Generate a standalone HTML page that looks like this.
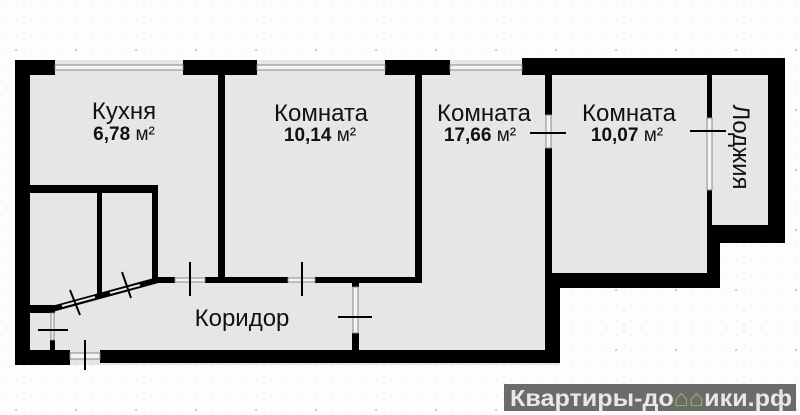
<!DOCTYPE html>
<html><head><meta charset="utf-8"><style>
html,body{margin:0;padding:0;background:#fff;}
svg{display:block;}
text{font-family:"Liberation Sans",sans-serif;}
</style></head><body>
<svg width="800" height="415" viewBox="0 0 800 415" xmlns="http://www.w3.org/2000/svg">
<defs>
<pattern id="dots" x="2" y="-9" width="15" height="15" patternUnits="userSpaceOnUse">
<circle cx="15" cy="15" r="1" fill="#c8ccd6"/>
</pattern>
<pattern id="bdots" x="-43" y="-9" width="60" height="60" patternUnits="userSpaceOnUse">
<circle cx="60" cy="60" r="2.2" fill="#b9cde6"/>
</pattern>
</defs>
<rect width="800" height="415" fill="#fdfdfd"/>
<rect width="800" height="415" fill="url(#dots)"/>
<rect width="800" height="415" fill="url(#bdots)"/>

<g fill="#e6e6e6">
<rect x="15" y="60" width="545" height="305"/>
<rect x="545" y="60" width="175" height="228"/>
<rect x="700" y="60" width="85" height="183"/>
</g>

<g fill="#000">
<rect x="15" y="60" width="40" height="15"/>
<rect x="183" y="60" width="74" height="15"/>
<rect x="385" y="60" width="65" height="15"/>
<rect x="522" y="58" width="263" height="17"/>
<rect x="15" y="60" width="15" height="305"/>
<rect x="15" y="350" width="55" height="15"/>
<rect x="100" y="350" width="458" height="13"/>
<rect x="768" y="58" width="17" height="185"/>
<rect x="707" y="225" width="78" height="18"/>
<rect x="707" y="75" width="5" height="43"/>
<rect x="707" y="190" width="5" height="40"/>
<rect x="707" y="240" width="13" height="48"/>
<rect x="545" y="273" width="175" height="15"/>
<rect x="545" y="273" width="15" height="90"/>
<rect x="545" y="75" width="7" height="40"/>
<rect x="545" y="148" width="7" height="130"/>
<rect x="218" y="75" width="7" height="208"/>
<rect x="415" y="75" width="7" height="208"/>
<rect x="155" y="277" width="20" height="6"/>
<rect x="205" y="277" width="83" height="6"/>
<rect x="315" y="277" width="107" height="6"/>
<rect x="352" y="277" width="7" height="10"/>
<rect x="352" y="333" width="7" height="30"/>
<rect x="30" y="185" width="128" height="8"/>
<rect x="97" y="193" width="5" height="105"/>
<rect x="152" y="185" width="6" height="98"/>
<rect x="30" y="305" width="25" height="8"/>
<rect x="50" y="340" width="5" height="12"/>
</g>
<line x1="52" y1="309" x2="158" y2="280" stroke="#000" stroke-width="6"/>
<line x1="62" y1="306" x2="95" y2="297" stroke="#e6e6e6" stroke-width="2"/>
<line x1="110" y1="293" x2="140" y2="285" stroke="#e6e6e6" stroke-width="2"/>

<g stroke="#888" stroke-width="1" fill="#f4f4f4">
<rect x="55" y="65" width="128" height="5"/>
<rect x="257" y="65" width="128" height="5"/>
<rect x="450" y="65" width="72" height="5"/>
<rect x="546" y="115" width="5" height="33"/>
<rect x="707" y="118" width="5" height="72"/>
<rect x="175" y="278" width="30" height="4"/>
<rect x="288" y="278" width="27" height="4"/>
<rect x="353" y="287" width="5" height="46"/>
<rect x="51" y="313" width="3" height="27"/>
<rect x="70" y="353" width="30" height="6"/>
</g>

<g stroke="#000" stroke-width="2">
<line x1="190" y1="262" x2="190" y2="296"/>
<line x1="302" y1="262" x2="302" y2="296"/>
<line x1="338" y1="317" x2="372" y2="317"/>
<line x1="530" y1="133" x2="566" y2="133"/>
<line x1="690" y1="131" x2="726" y2="131"/>
<line x1="70" y1="290" x2="80" y2="315"/>
<line x1="122" y1="272" x2="131" y2="298"/>
<line x1="38" y1="330" x2="68" y2="330"/>
<line x1="85" y1="340" x2="85" y2="370"/>
</g>

<g fill="#111" text-anchor="middle">
<text x="124" y="119" font-size="24">Кухня</text>
<text x="124" y="140" font-size="19" font-weight="bold">6,78 <tspan font-weight="normal">м²</tspan></text>
<text x="321" y="121" font-size="24">Комната</text>
<text x="320" y="141" font-size="19" font-weight="bold">10,14 <tspan font-weight="normal">м²</tspan></text>
<text x="484" y="121" font-size="24">Комната</text>
<text x="480" y="141" font-size="19" font-weight="bold">17,66 <tspan font-weight="normal">м²</tspan></text>
<text x="629" y="121" font-size="24">Комната</text>
<text x="627" y="141" font-size="19" font-weight="bold">10,07 <tspan font-weight="normal">м²</tspan></text>
<text x="242" y="326" font-size="24">Коридор</text>
<text transform="translate(733,147) rotate(90)" font-size="24">Лоджия</text>
</g>

<rect x="504" y="384" width="292" height="27" fill="#6b6b6b"/>
<text x="510" y="406" font-size="23" font-weight="bold" fill="#e8e8e8" textLength="282" lengthAdjust="spacingAndGlyphs">Квартиры-до<tspan fill="#8cc04b">⌂⌂</tspan>ики.рф</text>
</svg>
</body></html>
